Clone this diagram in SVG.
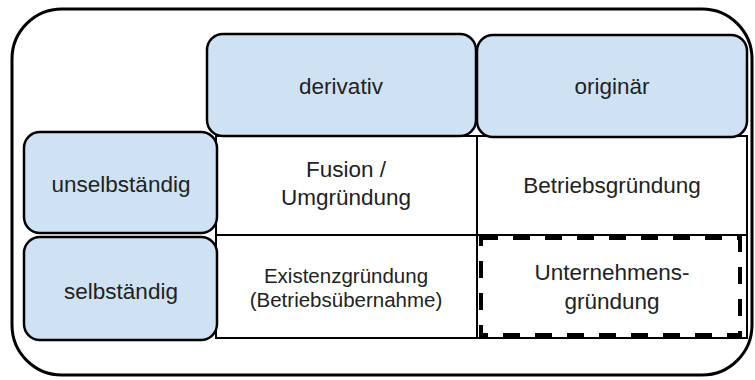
<svg xmlns="http://www.w3.org/2000/svg" width="755" height="380" viewBox="0 0 755 380">
  <style>
    .frame { fill: #ffffff; stroke: #000000; stroke-width: 3; }
    .cell { fill: #ffffff; stroke: #000000; stroke-width: 2; }
    .head { fill: #cfe2f3; stroke: #000000; stroke-width: 2.5; }
    .dash { fill: none; stroke: #000000; stroke-width: 4; stroke-dasharray: 17 15; }
    text { font-family: "Liberation Sans", Arial, sans-serif; font-size: 22.5px; fill: #222222; text-anchor: middle; }
    .small { font-size: 20.5px; }
  </style>

  <!-- outer frame -->
  <rect id="frame" class="frame" x="12" y="9" width="740" height="366" rx="50" ry="50"/>

  <!-- matrix cells -->
  <g id="cell-fusion">
    <rect class="cell" x="216" y="136" width="261" height="99"/>
    <text x="346" y="177">Fusion /</text>
    <text x="346" y="205">Umgründung</text>
  </g>
  <g id="cell-betriebsgruendung">
    <rect class="cell" x="477" y="136" width="270" height="99"/>
    <text x="612" y="193">Betriebsgründung</text>
  </g>
  <g id="cell-existenzgruendung">
    <rect class="cell" x="216" y="235" width="261" height="103"/>
    <text class="small" x="346" y="283">Existenzgründung</text>
    <text class="small" x="346" y="307">(Betriebsübernahme)</text>
  </g>
  <g id="cell-unternehmensgruendung">
    <rect class="cell" x="477" y="235" width="270" height="103"/>
    <rect class="dash" x="481" y="238" width="259" height="97"/>
    <text x="612" y="280">Unternehmens-</text>
    <text x="612" y="309">gründung</text>
  </g>

  <!-- column headers -->
  <g id="head-derivativ">
    <rect class="head" x="207" y="34" width="269" height="102" rx="16" ry="16"/>
    <text x="341" y="94">derivativ</text>
  </g>
  <g id="head-originaer">
    <rect class="head" x="477" y="35" width="270" height="102" rx="16" ry="16"/>
    <text x="612" y="94">originär</text>
  </g>

  <!-- row headers -->
  <g id="head-unselbstaendig">
    <rect class="head" x="24" y="132" width="193" height="101" rx="16" ry="16"/>
    <text x="121" y="192">unselbständig</text>
  </g>
  <g id="head-selbstaendig">
    <rect class="head" x="24" y="237" width="193" height="103" rx="16" ry="16"/>
    <text x="121" y="299">selbständig</text>
  </g>

  <g id="connectors"></g>
</svg>
